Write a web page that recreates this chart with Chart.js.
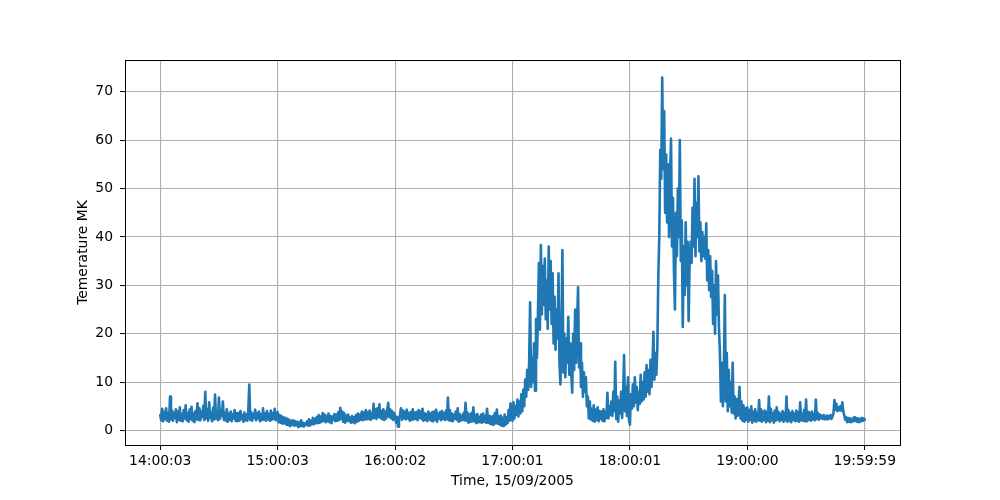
<!DOCTYPE html>
<html>
<head>
<meta charset="utf-8">
<script src="https://cdn.jsdelivr.net/npm/chart.js@4/dist/chart.umd.min.js"></script>
<style>
  html, body { margin: 0; padding: 0; background: #fff; }
  canvas { display: block; }
</style>
</head>
<body>
<canvas id="c" width="1000" height="500"></canvas>
<script>
// Sampling: two values per minute starting at 14:00:03, last at 19:59:59
const sampleStepMinutes = 359.933 / 720;

// Temperature (MK), one row = 40 samples (20 minutes)
const temperature = [
  3.2, 2.1, 4.5, 1.9, 3.8, 2.4, 4.6, 2.0, 3.5, 1.8, 7.0, 2.3, 4.1, 2.0, 3.7, 2.6, 4.4, 1.7, 3.9, 2.2,
  4.8, 2.0, 3.4, 1.9, 4.2, 2.5, 5.2, 2.1, 3.6, 1.8, 4.3, 2.4, 4.9, 2.0, 3.5, 1.7, 4.0, 2.3, 5.6, 2.2,

  4.6, 2.1, 3.9, 2.8, 5.1, 2.2, 8.0, 2.5, 4.4, 2.0, 5.8, 2.6, 3.7, 1.9, 4.7, 2.3, 7.4, 2.5, 3.8, 2.1,
  6.8, 2.4, 4.1, 3.0, 6.0, 2.2, 3.6, 2.0, 4.4, 1.8, 3.5, 2.2, 3.9, 1.9, 3.4, 2.5, 4.2, 2.0, 3.6, 1.9,

  3.6, 2.0, 4.0, 2.4, 3.2, 1.8, 3.7, 2.1, 3.3, 2.0, 4.1, 9.5, 2.2, 3.8, 2.0, 3.4, 2.6, 4.3, 2.1, 3.6,
  2.5, 3.9, 1.9, 3.4, 2.2, 4.6, 2.3, 3.5, 2.0, 4.0, 2.3, 3.4, 2.0, 4.1, 2.2, 3.6, 2.4, 4.5, 2.1, 3.3,

  3.8, 1.7, 3.2, 1.6, 3.0, 1.4, 2.7, 1.5, 2.6, 1.2, 2.4, 1.1, 2.2, 0.9, 2.0, 1.2, 2.1, 1.0, 1.9, 1.1,
  1.8, 0.7, 1.7, 0.9, 2.1, 0.9, 1.6, 0.8, 1.5, 1.2, 1.9, 1.0, 2.3, 1.0, 2.0, 1.3, 2.6, 1.3, 2.4, 1.5,

  2.8, 1.5, 3.2, 1.6, 2.9, 1.8, 3.6, 2.0, 3.3, 1.7, 3.0, 1.9, 3.5, 1.7, 3.0, 1.5, 2.9, 2.2, 3.4, 1.9,
  3.3, 2.0, 3.8, 2.2, 4.7, 2.4, 3.9, 1.8, 3.6, 1.6, 3.1, 2.0, 3.3, 1.9, 2.7, 1.6, 3.0, 1.7, 2.7, 1.5,

  3.2, 1.8, 3.5, 2.0, 3.3, 2.2, 3.9, 2.1, 3.7, 2.3, 4.2, 2.3, 3.8, 2.4, 4.1, 2.2, 3.6, 2.5, 5.5, 2.6,
  4.4, 2.4, 4.6, 2.8, 5.4, 2.6, 4.0, 2.3, 4.4, 2.2, 3.9, 2.5, 4.3, 5.7, 2.8, 4.4, 2.5, 4.0, 2.2, 3.6,

  3.0, 1.6, 2.8, 0.8, 2.4, 3.2, 4.6, 2.2, 4.1, 2.5, 3.9, 2.3, 4.3, 2.5, 3.6, 2.0, 3.8, 2.2, 4.4, 2.3,
  3.7, 2.4, 3.8, 2.1, 4.2, 2.6, 3.9, 2.4, 4.5, 2.0, 3.6, 2.2, 3.4, 1.9, 3.9, 2.3, 3.5, 2.0, 3.8, 1.9,

  3.9, 2.2, 4.3, 1.8, 3.5, 2.5, 3.8, 2.1, 4.0, 2.4, 3.6, 2.2, 4.1, 2.3, 6.8, 2.1, 4.2, 2.0, 3.5, 1.9,
  3.3, 2.4, 3.9, 2.2, 4.6, 1.8, 3.4, 2.0, 3.1, 2.2, 3.6, 2.1, 5.7, 2.0, 3.7, 1.6, 3.3, 1.8, 3.6, 1.9,

  4.8, 1.9, 3.2, 1.5, 3.4, 1.7, 2.8, 1.7, 3.3, 1.6, 3.5, 1.8, 3.0, 1.6, 4.5, 1.6, 3.0, 1.4, 2.8, 1.2,
  3.0, 1.2, 3.6, 1.5, 4.3, 1.4, 2.9, 1.2, 3.1, 1.0, 2.6, 0.9, 3.3, 1.2, 2.7, 1.5, 4.2, 2.0, 5.6, 2.6,

  2.0, 5.8, 2.5, 5.0, 3.2, 6.4, 2.9, 6.0, 3.5, 7.5, 4.0, 8.4, 5.0, 10.5, 7.0, 12.5, 8.4, 14.0, 26.5, 9.0,
  15.0, 10.0, 18.0, 8.2, 23.0, 15.0, 24.0, 34.6, 20.8, 38.3, 24.0, 34.0, 26.0, 35.5, 23.0, 31.0, 21.0, 38.0, 25.0, 35.0,

  22.0, 32.5, 18.0, 27.6, 16.7, 25.0, 19.0, 32.5, 14.0, 9.5, 21.0, 37.3, 12.0, 20.0, 11.0, 19.0, 14.0, 23.5, 11.5, 18.0,
  12.0, 7.8, 20.0, 12.5, 25.0, 14.0, 22.0, 29.6, 13.0, 18.0, 9.0, 14.0, 7.0, 12.0, 8.0, 11.0, 5.0, 7.0, 2.5, 6.0,

  2.3, 4.5, 2.0, 5.2, 1.8, 4.3, 2.2, 4.8, 1.9, 4.0, 2.4, 3.9, 2.0, 4.4, 1.9, 3.8, 2.6, 7.8, 2.5, 5.0,
  3.2, 6.0, 3.0, 8.0, 4.0, 14.2, 2.4, 7.0, 1.8, 6.2, 3.5, 8.0, 2.6, 6.5, 15.6, 4.0, 9.0, 3.0, 11.0, 2.2,

  1.2, 7.5, 4.5, 9.5, 5.0, 11.0, 5.8, 9.0, 4.2, 8.0, 5.5, 11.5, 6.0, 10.0, 6.4, 12.0, 7.0, 13.5, 8.0, 12.5,
  7.5, 14.6, 9.0, 13.0, 20.4, 10.5, 16.0, 11.5, 17.0, 31.7, 40.0, 58.0, 52.0, 72.9, 54.0, 66.0, 45.0, 57.0, 43.0, 55.0,

  40.0, 52.0, 60.3, 38.0, 48.0, 33.0, 25.0, 45.0, 36.0, 50.0, 40.0, 60.0, 35.0, 43.4, 21.4, 38.0, 28.0, 43.0, 30.0, 39.0,
  22.6, 35.0, 39.0, 34.6, 46.0, 38.0, 52.0, 36.0, 47.0, 40.0, 52.5, 37.0, 43.0, 35.0, 41.0, 36.0, 40.0, 35.5, 42.8, 31.0,

  37.3, 29.0, 36.0, 27.6, 33.0, 22.0, 30.0, 20.0, 35.0, 24.0, 32.0, 21.0, 16.0, 6.0, 14.0, 5.0, 12.0, 28.0, 6.0, 16.0,
  4.0, 12.5, 5.0, 10.0, 3.7, 14.0, 3.5, 7.0, 2.5, 6.5, 3.0, 5.5, 9.0, 2.5, 6.0, 2.0, 5.2, 1.8, 4.6, 2.2,

  4.8, 1.8, 4.2, 2.2, 5.0, 1.6, 3.9, 2.0, 4.4, 1.8, 3.6, 2.1, 6.3, 2.0, 4.4, 1.8, 3.9, 2.2, 4.1, 1.7,
  3.8, 2.0, 7.0, 1.7, 4.5, 2.1, 3.6, 1.6, 4.1, 2.0, 4.8, 2.3, 3.8, 1.9, 3.5, 2.2, 4.0, 1.8, 3.6, 2.1,

  7.0, 1.8, 4.2, 2.0, 3.6, 1.7, 4.0, 2.2, 3.5, 1.9, 4.1, 2.0, 3.7, 1.8, 5.8, 2.1, 3.4, 2.0, 4.2, 1.9,
  6.4, 1.9, 3.8, 2.2, 3.5, 2.0, 3.9, 2.3, 3.4, 2.1, 6.4, 2.4, 3.6, 2.2, 3.3, 2.5, 3.1, 2.4, 3.2, 2.3,

  2.4, 3.1, 2.3, 3.0, 2.5, 3.2, 2.4, 2.9, 3.5, 6.3, 4.3, 5.5, 4.0, 4.8, 4.2, 5.0, 4.1, 5.8, 4.0, 3.2,
  2.2, 2.7, 1.7, 2.6, 1.8, 2.5, 1.7, 2.4, 1.9, 2.7, 2.0, 2.6, 1.8, 2.5, 1.7, 2.4, 1.9, 2.6, 2.0, 2.5,

  2.2
];

// X tick positions (minutes after 14:00:03) and their labels
const xTickMinutes = [0, 60, 119.983, 179.967, 239.967, 299.95, 359.933];
const xTickLabels = ['14:00:03', '15:00:03', '16:00:02', '17:00:01', '18:00:01', '19:00:00', '19:59:59'];
// Y ticks
const yTickValues = [0, 10, 20, 30, 40, 50, 60, 70];

const points = temperature.map((v, i) => ({ x: i * sampleStepMinutes, y: v }));

const fontSpec = { family: '"DejaVu Sans", sans-serif', size: 13.9 };

const frame = {
  id: 'frame',
  afterDraw(chart) {
    const { ctx, chartArea: a } = chart;
    ctx.save();
    ctx.strokeStyle = '#000';
    ctx.lineWidth = 1;
    ctx.strokeRect(Math.round(a.left) + 0.5, Math.round(a.top) + 0.5,
                   Math.round(a.right - a.left), Math.round(a.bottom - a.top));
    ctx.restore();
  }
};

new Chart(document.getElementById('c'), {
  type: 'line',
  data: {
    datasets: [{
      data: points,
      borderColor: '#1f77b4',
      borderWidth: 2.6,
      borderJoinStyle: 'round',
      borderCapStyle: 'round',
      pointRadius: 0,
      tension: 0,
      fill: false
    }]
  },
  options: {
    responsive: false,
    animation: false,
    devicePixelRatio: 1,
    layout: { padding: { left: 0, right: 100, top: 60, bottom: 0 } },
    plugins: { legend: { display: false }, tooltip: { enabled: false } },
    scales: {
      x: {
        type: 'linear',
        min: -18.0,
        max: 377.93,
        afterBuildTicks: s => { s.ticks = xTickMinutes.map(v => ({ value: v })); },
        afterFit: s => { s.height = 55; },
        ticks: {
          autoSkip: false, maxRotation: 0, minRotation: 0,
          color: '#000', font: fontSpec, padding: 3,
          callback: (v) => {
            const i = xTickMinutes.findIndex(t => Math.abs(t - v) < 1e-6);
            return i >= 0 ? xTickLabels[i] : '';
          }
        },
        grid: { color: '#b0b0b0', lineWidth: 1.1, tickLength: 5, tickColor: '#000', tickWidth: 1 },
        border: { color: '#000', width: 1 },
        title: { display: true, text: 'Time, 15/09/2005', color: '#000', font: fontSpec, padding: { top: 0, bottom: 10 } }
      },
      y: {
        type: 'linear',
        min: -3.0,
        max: 76.55,
        afterBuildTicks: s => { s.ticks = yTickValues.map(v => ({ value: v })); },
        afterFit: s => { s.width = 125; },
        ticks: { color: '#000', font: fontSpec, padding: 7, callback: v => String(v) },
        grid: { color: '#b0b0b0', lineWidth: 1.1, tickLength: 5, tickColor: '#000', tickWidth: 1 },
        border: { color: '#000', width: 1 },
        title: { display: true, text: 'Temerature MK', color: '#000', font: fontSpec, padding: { top: 75, bottom: 0 } }
      }
    }
  },
  plugins: [frame]
});
</script>
</body>
</html>
